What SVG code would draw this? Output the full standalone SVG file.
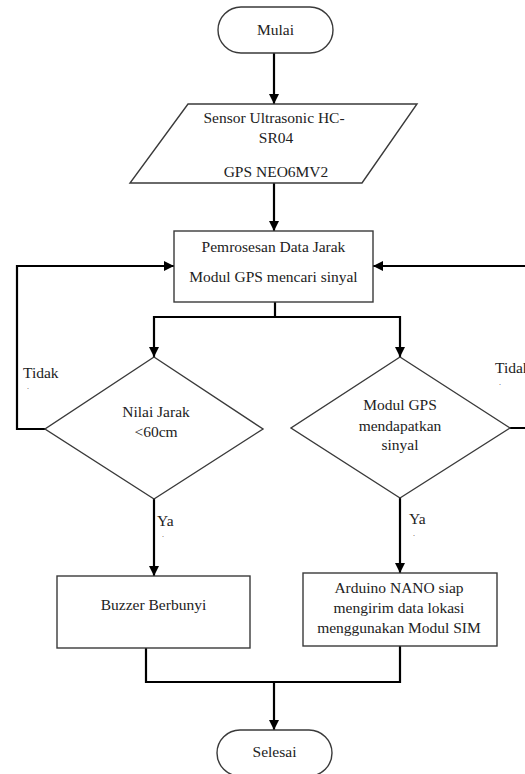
<svg xmlns="http://www.w3.org/2000/svg" width="525" height="774" viewBox="0 0 525 774">
<defs>
<style>
.shape{fill:#fff;stroke:#3a3a3a;stroke-width:1.4}
.conn{fill:none;stroke:#000;stroke-width:2.2}
.t{font-family:'Liberation Serif','Tinos','DejaVu Serif','Noto Serif','Times New Roman',serif;font-size:15.5px;fill:#222;text-anchor:middle}
.l{font-family:'Liberation Serif','Tinos','DejaVu Serif','Noto Serif','Times New Roman',serif;font-size:15.5px;fill:#222}
.d{font-family:'Liberation Serif','Tinos','DejaVu Serif',serif;font-size:8px;fill:#444}
</style>
<marker id="ah" markerUnits="userSpaceOnUse" markerWidth="10" markerHeight="12" refX="10" refY="5" orient="auto">
<path d="M0,0 L10,5 L0,10 Z" fill="#000"/>
</marker>
</defs>
<rect width="525" height="774" fill="#fff"/>
<g id="connectors">
<path class="conn" d="M274,53 V104" marker-end="url(#ah)"/>
<path class="conn" d="M274,183 V231" marker-end="url(#ah)"/>
<path class="conn" d="M275,302 V317"/>
<path class="conn" d="M154,317 H400"/>
<path class="conn" d="M154,316 V357" marker-end="url(#ah)"/>
<path class="conn" d="M400,316 V357" marker-end="url(#ah)"/>
<path class="conn" d="M45,429 H17 V266 H174" marker-end="url(#ah)"/>
<path class="conn" d="M510,428 H532 V266 H373" marker-end="url(#ah)"/>
<path class="conn" d="M154,499 V576" marker-end="url(#ah)"/>
<path class="conn" d="M400,498 V573" marker-end="url(#ah)"/>
<path class="conn" d="M146,648 V682 H400 V646"/>
<path class="conn" d="M274,682 V730" marker-end="url(#ah)"/>
</g>
<g id="mulai">
<rect class="shape" x="218" y="7" width="115" height="46" rx="23"/>
<text class="t" x="275.5" y="35">Mulai</text>
</g>
<g id="input">
<polygon class="shape" points="188,104 417,104 362,183 130,183"/>
<text class="t" x="274" y="123">Sensor Ultrasonic HC-</text>
<text class="t" x="276" y="143">SR04</text>
<text class="t" x="276" y="177">GPS NEO6MV2</text>
</g>
<g id="proses">
<rect class="shape" x="174" y="231" width="199" height="71"/>
<text class="t" x="273.5" y="252">Pemrosesan Data Jarak</text>
<text class="t" x="273.5" y="282">Modul GPS mencari sinyal</text>
</g>
<g id="cek-jarak">
<polygon class="shape" points="154,357 263,429 154,499 45,429"/>
<text class="t" x="156" y="417">Nilai Jarak</text>
<text class="t" x="156" y="437">&lt;60cm</text>
</g>
<g id="cek-gps">
<polygon class="shape" points="400,357 510,428 400,498 291,428"/>
<text class="t" x="400" y="410">Modul GPS</text>
<text class="t" x="400" y="431">mendapatkan</text>
<text class="t" x="400" y="450">sinyal</text>
</g>
<g id="label-tidak-kiri">
<text class="l" x="23" y="378">Tidak</text>
<text class="d" x="27" y="389">.</text>
</g>
<g id="label-tidak-kanan">
<text class="l" x="495" y="373">Tidak</text>
<text class="d" x="499" y="385">.</text>
</g>
<g id="label-ya-kiri">
<text class="l" x="157" y="526">Ya</text>
<text class="d" x="162" y="537">.</text>
</g>
<g id="label-ya-kanan">
<text class="l" x="409" y="524">Ya</text>
<text class="d" x="413" y="536">.</text>
</g>
<g id="buzzer">
<rect class="shape" x="57" y="576" width="193" height="72"/>
<text class="t" x="153.5" y="610">Buzzer Berbunyi</text>
</g>
<g id="arduino">
<rect class="shape" x="303" y="573" width="194" height="73"/>
<text class="t" x="399" y="593">Arduino NANO siap</text>
<text class="t" x="399" y="613">mengirim data lokasi</text>
<text class="t" x="399" y="633">menggunakan Modul SIM</text>
</g>
<g id="selesai">
<rect class="shape" x="217" y="730" width="115" height="46" rx="23"/>
<text class="t" x="274.5" y="757">Selesai</text>
</g>
</svg>
